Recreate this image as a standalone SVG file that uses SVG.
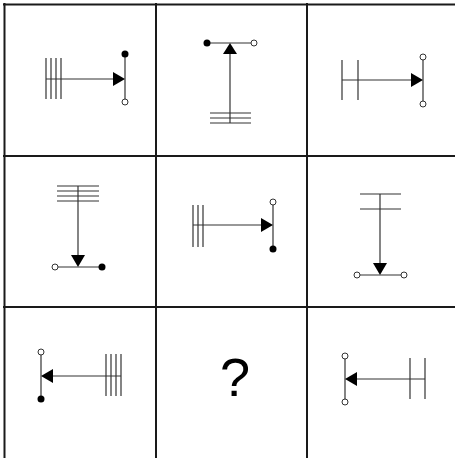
<svg xmlns="http://www.w3.org/2000/svg" width="455" height="458" viewBox="0 0 455 458">
<style>
.grid{stroke:#1a1a1a;stroke-width:2;fill:none}
.ln{stroke:#333;stroke-width:1.2;fill:none}
.ah{fill:#000;stroke:none}
.fd{fill:#000;stroke:none}
.od{fill:#fff;stroke:#333;stroke-width:1}
.q{font-family:"Liberation Sans",Arial,sans-serif;font-size:54px;fill:#000}
</style>
<rect width="455" height="458" fill="#fff"/>
<g id="grid">
<line class="grid" x1="3" y1="4.5" x2="455" y2="4.5"/>
<line class="grid" x1="4.5" y1="3" x2="4.5" y2="458"/>
<line class="grid" x1="156" y1="3" x2="156" y2="458"/>
<line class="grid" x1="307" y1="3" x2="307" y2="458"/>
<line class="grid" x1="3" y1="156" x2="455" y2="156"/>
<line class="grid" x1="3" y1="307" x2="455" y2="307"/>
</g>
<g id="cell1">
<line class="ln" x1="46" y1="58" x2="46" y2="99"/>
<line class="ln" x1="51" y1="58" x2="51" y2="99"/>
<line class="ln" x1="56" y1="58" x2="56" y2="99"/>
<line class="ln" x1="61" y1="58" x2="61" y2="99"/>
<line class="ln" x1="46" y1="79" x2="120" y2="79"/>
<line class="ln" x1="125" y1="54" x2="125" y2="102"/>
<polygon class="ah" points="125,79 113,72 113,86"/>
<circle class="fd" cx="125" cy="54" r="3.5"/>
<circle class="od" cx="125" cy="102" r="3"/>
</g>
<g id="cell2">
<line class="ln" x1="207" y1="43" x2="254" y2="43"/>
<line class="ln" x1="230" y1="48" x2="230" y2="123"/>
<line class="ln" x1="210" y1="113" x2="251" y2="113"/>
<line class="ln" x1="210" y1="118" x2="251" y2="118"/>
<line class="ln" x1="210" y1="123" x2="251" y2="123"/>
<polygon class="ah" points="230,43 223,54 237,54"/>
<circle class="fd" cx="207" cy="43" r="3.5"/>
<circle class="od" cx="254" cy="43" r="3"/>
</g>
<g id="cell3">
<line class="ln" x1="342" y1="60" x2="342" y2="100"/>
<line class="ln" x1="358" y1="60" x2="358" y2="100"/>
<line class="ln" x1="342" y1="80" x2="418" y2="80"/>
<line class="ln" x1="423" y1="57" x2="423" y2="104"/>
<polygon class="ah" points="423,80 411,73 411,87"/>
<circle class="od" cx="423" cy="57" r="3"/>
<circle class="od" cx="423" cy="104" r="3"/>
</g>
<g id="cell4">
<line class="ln" x1="57" y1="186" x2="99" y2="186"/>
<line class="ln" x1="57" y1="191" x2="99" y2="191"/>
<line class="ln" x1="57" y1="196" x2="99" y2="196"/>
<line class="ln" x1="57" y1="201" x2="99" y2="201"/>
<line class="ln" x1="78" y1="186" x2="78" y2="262"/>
<line class="ln" x1="55" y1="267" x2="102" y2="267"/>
<polygon class="ah" points="78,267 71,255 85,255"/>
<circle class="od" cx="55" cy="267" r="3"/>
<circle class="fd" cx="102" cy="267" r="3.5"/>
</g>
<g id="cell5">
<line class="ln" x1="193" y1="205" x2="193" y2="247"/>
<line class="ln" x1="198" y1="205" x2="198" y2="247"/>
<line class="ln" x1="203" y1="205" x2="203" y2="247"/>
<line class="ln" x1="193" y1="225" x2="268" y2="225"/>
<line class="ln" x1="273" y1="202" x2="273" y2="249"/>
<polygon class="ah" points="273,225 261,218 261,232"/>
<circle class="od" cx="273" cy="202" r="3"/>
<circle class="fd" cx="273" cy="249" r="3.5"/>
</g>
<g id="cell6">
<line class="ln" x1="360" y1="194" x2="401" y2="194"/>
<line class="ln" x1="360" y1="209" x2="401" y2="209"/>
<line class="ln" x1="380" y1="194" x2="380" y2="270"/>
<line class="ln" x1="357" y1="275" x2="404" y2="275"/>
<polygon class="ah" points="380,275 373,263 387,263"/>
<circle class="od" cx="357" cy="275" r="3"/>
<circle class="od" cx="404" cy="275" r="3"/>
</g>
<g id="cell7">
<line class="ln" x1="106" y1="354" x2="106" y2="396"/>
<line class="ln" x1="111" y1="354" x2="111" y2="396"/>
<line class="ln" x1="116" y1="354" x2="116" y2="396"/>
<line class="ln" x1="121" y1="354" x2="121" y2="396"/>
<line class="ln" x1="46" y1="376" x2="121" y2="376"/>
<line class="ln" x1="41" y1="352" x2="41" y2="399"/>
<polygon class="ah" points="41,376 53,369 53,383"/>
<circle class="od" cx="41" cy="352" r="3"/>
<circle class="fd" cx="41" cy="399" r="3.5"/>
</g>
<g id="cell8">
<text class="q" x="235" y="396" text-anchor="middle">?</text>
</g>
<g id="cell9">
<line class="ln" x1="410" y1="358" x2="410" y2="399"/>
<line class="ln" x1="425" y1="358" x2="425" y2="399"/>
<line class="ln" x1="350" y1="379" x2="425" y2="379"/>
<line class="ln" x1="345" y1="356" x2="345" y2="402"/>
<polygon class="ah" points="345,379 357,372 357,386"/>
<circle class="od" cx="345" cy="356" r="3"/>
<circle class="od" cx="345" cy="402" r="3"/>
</g>
</svg>
